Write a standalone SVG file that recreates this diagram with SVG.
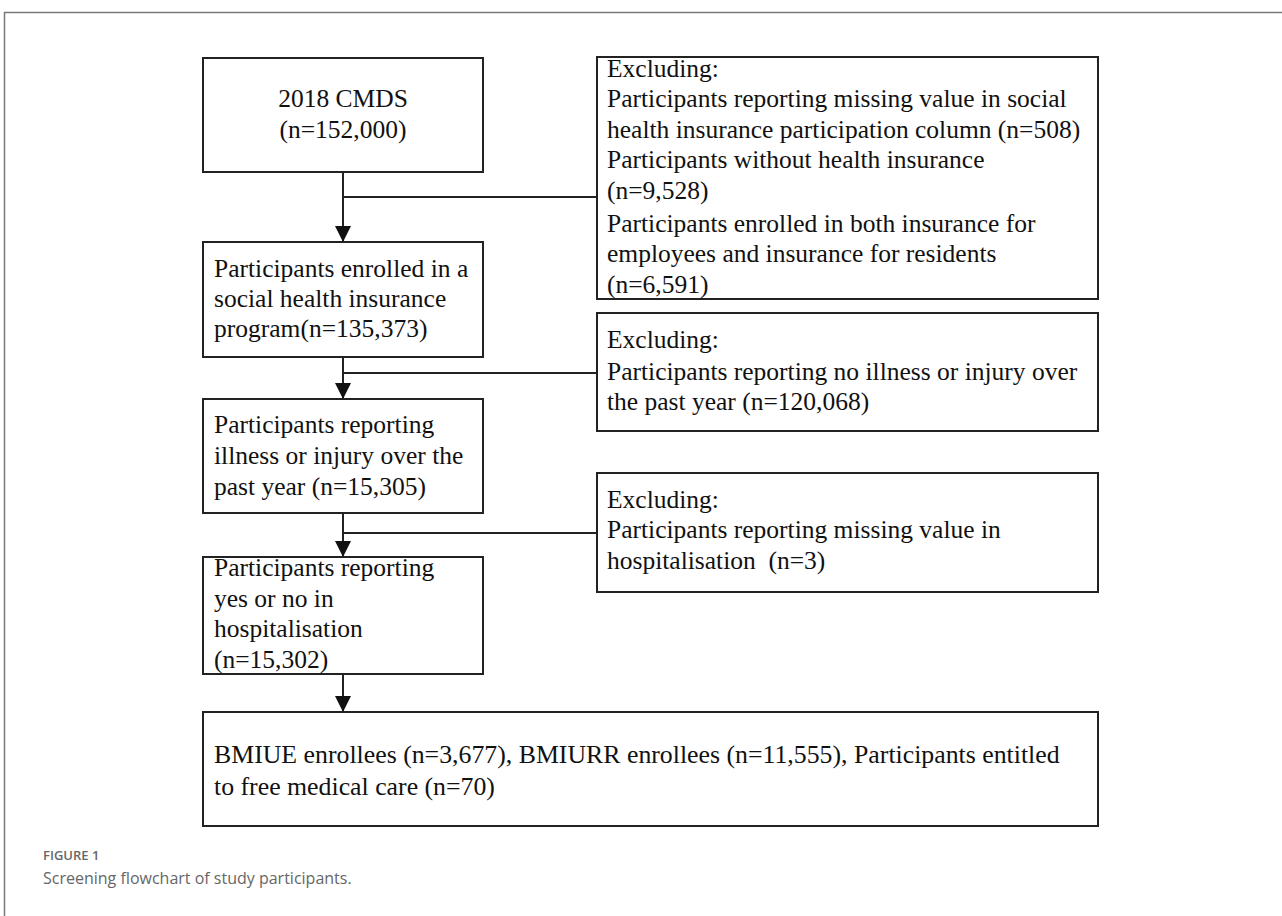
<svg xmlns="http://www.w3.org/2000/svg" width="1282" height="916" viewBox="0 0 1282 916">
<style>
.box{fill:#fff;stroke:#222;stroke-width:2}
.t{font-family:"Liberation Serif","Times New Roman",serif;font-size:25.5px;fill:#111}
.c{text-anchor:middle}
.ln{stroke:#222;stroke-width:2;fill:none}
.cap1{font-family:"Open Sans",sans-serif;font-size:13px;font-weight:600;fill:#666}
.cap2{font-family:"Open Sans",sans-serif;font-size:16px;fill:#666}
</style>
<defs>
<marker id="ah" markerWidth="16" markerHeight="18" refX="15" refY="8" orient="auto" markerUnits="userSpaceOnUse">
<path d="M0,0 L16,8 L0,16 Z" fill="#111"/>
</marker>
</defs>
<rect width="1282" height="916" fill="#fff"/>
<path d="M4.5,916 V12.5 H1282" stroke="#777" stroke-width="1.5" fill="none"/>

<g id="connectors">
<path class="ln" d="M343,172 V241" marker-end="url(#ah)"/>
<path class="ln" d="M343,197 H597"/>
<path class="ln" d="M343,357 V398" marker-end="url(#ah)"/>
<path class="ln" d="M343,373 H597"/>
<path class="ln" d="M343,513 V556" marker-end="url(#ah)"/>
<path class="ln" d="M343,533 H597"/>
<path class="ln" d="M343,674 V711" marker-end="url(#ah)"/>
</g>

<g id="n1">
<rect class="box" x="203" y="58" width="280" height="114"/>
<text class="t c" x="343" y="107">2018 CMDS</text>
<text class="t c" x="343" y="138">(n=152,000)</text>
</g>
<g id="n2">
<rect class="box" x="203" y="242" width="280" height="115"/>
<text class="t" x="214" y="277">Participants enrolled in a</text>
<text class="t" x="214" y="307">social health insurance</text>
<text class="t" x="214" y="337">program(n=135,373)</text>
</g>
<g id="n3">
<rect class="box" x="203" y="399" width="280" height="114"/>
<text class="t" x="214" y="433">Participants reporting</text>
<text class="t" x="214" y="464">illness or injury over the</text>
<text class="t" x="214" y="495">past year (n=15,305)</text>
</g>
<g id="n4">
<rect class="box" x="203" y="557" width="280" height="117"/>
<text class="t" x="214" y="576">Participants reporting</text>
<text class="t" x="214" y="607">yes or no in</text>
<text class="t" x="214" y="637">hospitalisation</text>
<text class="t" x="214" y="668">(n=15,302)</text>
</g>
<g id="e1">
<rect class="box" x="597" y="57" width="501" height="242"/>
<text class="t" x="607" y="77">Excluding:</text>
<text class="t" x="607" y="107">Participants reporting missing value in social</text>
<text class="t" x="607" y="138">health insurance participation column (n=508)</text>
<text class="t" x="607" y="168">Participants without health insurance</text>
<text class="t" x="607" y="199">(n=9,528)</text>
<text class="t" x="607" y="232">Participants enrolled in both insurance for</text>
<text class="t" x="607" y="262">employees and insurance for residents</text>
<text class="t" x="607" y="293">(n=6,591)</text>
</g>
<g id="e2">
<rect class="box" x="597" y="313" width="501" height="118"/>
<text class="t" x="607" y="348">Excluding:</text>
<text class="t" x="607" y="380">Participants reporting no illness or injury over</text>
<text class="t" x="607" y="410">the past year (n=120,068)</text>
</g>
<g id="e3">
<rect class="box" x="597" y="473" width="501" height="119"/>
<text class="t" x="607" y="508">Excluding:</text>
<text class="t" x="607" y="538">Participants reporting missing value in</text>
<text class="t" x="607" y="569" xml:space="preserve">hospitalisation  (n=3)</text>
</g>
<g id="n5">
<rect class="box" x="203" y="712" width="895" height="114"/>
<text class="t" x="214" y="763" style="font-size:25.8px">BMIUE enrollees (n=3,677), BMIURR enrollees (n=11,555), Participants entitled</text>
<text class="t" x="214" y="795" style="font-size:25.8px">to free medical care (n=70)</text>
</g>

<text class="cap1" x="43" y="860">FIGURE 1</text>
<text class="cap2" x="43" y="884">Screening flowchart of study participants.</text>
</svg>
